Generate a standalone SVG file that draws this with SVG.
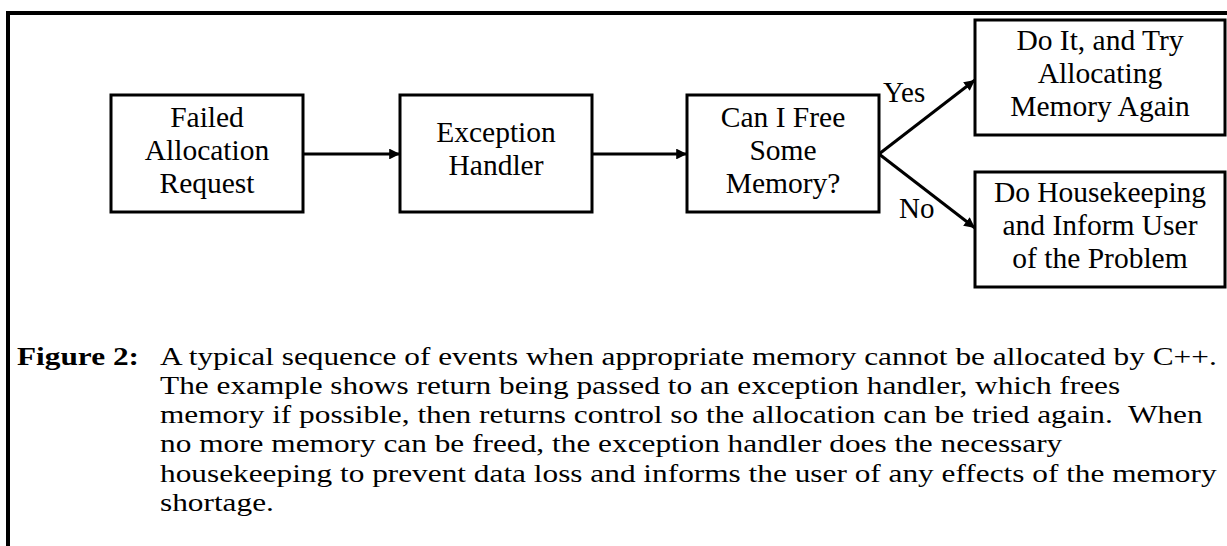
<svg xmlns="http://www.w3.org/2000/svg" width="1227" height="546" viewBox="0 0 1227 546">
<style>
.box{fill:#fff;stroke:#000;stroke-width:3}
.t{font-family:"Liberation Serif","Times New Roman",serif;font-size:29.5px;fill:#000;text-anchor:middle}
.lbl{font-family:"Liberation Serif","Times New Roman",serif;font-size:29px;fill:#000}
.cap{font-family:"Liberation Serif","Times New Roman",serif;font-size:26px;fill:#000;white-space:pre}
.conn{stroke:#000;stroke-width:3;fill:none;marker-end:url(#ah)}
</style>
<defs>
<marker id="ah" viewBox="0 0 10 10" refX="10" refY="5" markerWidth="3.8" markerHeight="3.6" orient="auto" markerUnits="strokeWidth">
<path d="M0,0 L10,5 L0,10 z" fill="#000"/>
</marker>
</defs>
<rect width="1227" height="546" fill="#fff"/>
<path d="M8,560 L8,13 L1240,13" fill="none" stroke="#000" stroke-width="4"/>
<g id="connectors">
<line class="conn" x1="303" y1="154" x2="400" y2="154"/>
<line class="conn" x1="592" y1="154" x2="687" y2="154"/>
<line class="conn" x1="879" y1="154" x2="975" y2="80"/>
<line class="conn" x1="879" y1="154" x2="975" y2="228"/>
<text class="lbl" x="883" y="102">Yes</text>
<text class="lbl" x="899" y="218">No</text>
</g>
<g id="n1">
<rect class="box" x="111" y="95" width="192" height="117"/>
<text class="t" x="207" y="127">Failed</text>
<text class="t" x="207" y="160">Allocation</text>
<text class="t" x="207" y="193">Request</text>
</g>
<g id="n2">
<rect class="box" x="400" y="95" width="192" height="117"/>
<text class="t" x="496" y="142">Exception</text>
<text class="t" x="496" y="175">Handler</text>
</g>
<g id="n3">
<rect class="box" x="687" y="95" width="192" height="117"/>
<text class="t" x="783" y="127">Can I Free</text>
<text class="t" x="783" y="160">Some</text>
<text class="t" x="783" y="193">Memory?</text>
</g>
<g id="n4">
<rect class="box" x="975" y="20" width="250" height="115"/>
<text class="t" x="1100" y="50">Do It, and Try</text>
<text class="t" x="1100" y="83">Allocating</text>
<text class="t" x="1100" y="116">Memory Again</text>
</g>
<g id="n5">
<rect class="box" x="975" y="172" width="250" height="115"/>
<text class="t" x="1100" y="202">Do Housekeeping</text>
<text class="t" x="1100" y="235">and Inform User</text>
<text class="t" x="1100" y="268">of the Problem</text>
</g>
<g id="caption" transform="scale(1.205,1)">
<text class="cap" x="14.1" y="365" font-weight="bold">Figure 2:</text>
<text class="cap" x="132.8" y="365">A typical sequence of events when appropriate memory cannot be allocated by C++.</text>
<text class="cap" x="132.8" y="394">The example shows return being passed to an exception handler, which frees</text>
<text class="cap" x="132.8" y="423">memory if possible, then returns control so the allocation can be tried again.  When</text>
<text class="cap" x="132.8" y="452">no more memory can be freed, the exception handler does the necessary</text>
<text class="cap" x="132.8" y="482">housekeeping to prevent data loss and informs the user of any effects of the memory</text>
<text class="cap" x="132.8" y="511">shortage.</text>
</g>
</svg>
